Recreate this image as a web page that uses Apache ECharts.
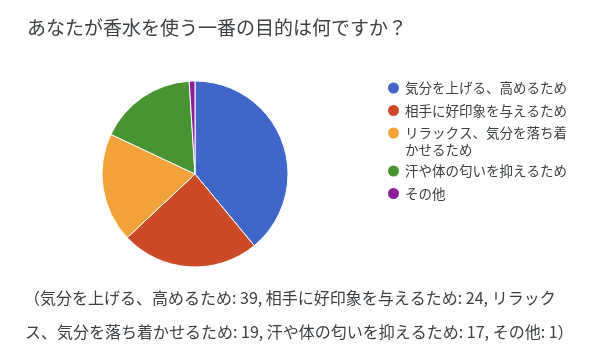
<!DOCTYPE html>
<html>
<head>
<meta charset="utf-8">
<script src="https://cdn.jsdelivr.net/npm/echarts@6/dist/echarts.min.js"></script>
<style>
  html, body {margin: 0; padding: 0; background: #fff;}
  #main {width: 600px; height: 361px;}
</style>
</head>
<body>
<div id="main"></div>
<script>
const categories = [
    '気分を上げる、高めるため',
    '相手に好印象を与えるため',
    'リラックス、気分を落ち着かせるため',
    '汗や体の匂いを抑えるため',
    'その他'
];
const counts = [39, 24, 19, 17, 1];
const colors = ['#4066c9', '#cd4a27', '#f2a23b', '#489432', '#8d1f9a'];

const font = '"Noto Sans CJK JP", sans-serif';
const textColor = '#3c4043';
const chartDom = document.getElementById('main');
const myChart = echarts.init(chartDom);

// summary line under the chart, split in two like the original
const summary = categories.map((c, i) => c + ': ' + counts[i]).join(', ');
const cut = summary.indexOf('ス、気分');
const line1 = '（' + summary.slice(0, cut);
const line2 = summary.slice(cut) + '）';

// the long legend label wraps, icon stays on the first line
const wrapHead = 'リラックス、気分を落ち着';
const wrapTail = 'かせるため';

const legendBase = {
    orient: 'vertical',
    left: 381,
    icon: 'circle',
    itemWidth: 13,
    itemHeight: 13,
    itemGap: 4.5,
    formatter: (name) => name === categories[2] ? wrapHead : name,
    textStyle: {
        fontFamily: font,
        fontSize: 13.5,
        color: textColor,
        lineHeight: 18
    }
};

const option = {
    color: colors,
    title: {
        text: 'あなたが香水を使う一番の目的は何ですか？',
        left: 22,
        top: 13,
        textStyle: {
            fontFamily: font,
            fontSize: 19,
            fontWeight: 'normal',
            color: textColor
        }
    },
    legend: [
        Object.assign({}, legendBase, {top: 74, data: categories.slice(0, 3)}),
        Object.assign({}, legendBase, {top: 157, data: categories.slice(3)})
    ],
    series: [
        {
            type: 'pie',
            center: [195, 174],
            radius: 93,
            startAngle: 90,
            clockwise: true,
            label: {show: false},
            labelLine: {show: false},
            itemStyle: {
                borderColor: '#fff',
                borderWidth: 1
            },
            emphasis: {disabled: true},
            data: categories.map((name, i) => ({name: name, value: counts[i]}))
        }
    ],
    graphic: [
        {
            type: 'text',
            left: 405,
            top: 143,
            style: {
                text: wrapTail,
                font: '13.5px ' + font,
                fill: textColor
            }
        },
        {
            type: 'text',
            left: 24,
            top: 290,
            style: {
                text: line1,
                font: '16px ' + font,
                fill: textColor
            }
        },
        {
            type: 'text',
            left: 25,
            top: 324,
            style: {
                text: line2,
                font: '16px ' + font,
                fill: textColor
            }
        }
    ]
};

option && myChart.setOption(option);
</script>
</body>
</html>
